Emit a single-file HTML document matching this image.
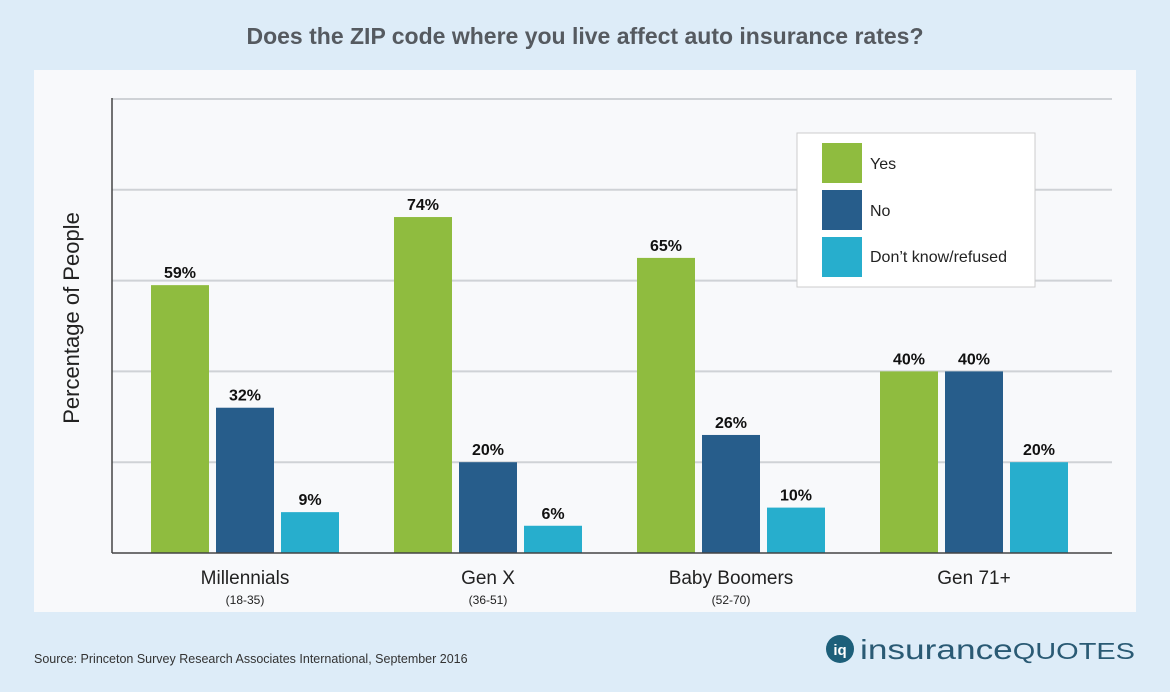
<!DOCTYPE html>
<html><head><meta charset="utf-8"><style>
body{margin:0;width:1170px;height:687px;background:#ddecf8;font-family:"Liberation Sans",sans-serif;overflow:hidden}
</style></head><body>
<svg width="1170" height="687" xmlns="http://www.w3.org/2000/svg">
<text x="585" y="44" text-anchor="middle" font-size="23" font-weight="bold" fill="#555a60">Does the ZIP code where you live affect auto insurance rates?</text>
<rect x="34" y="70" width="1102" height="542" fill="#f8f9fb"/>
<g id="grid"></g>
<g id="bars"></g>
<line x1="112" y1="98" x2="112" y2="553" stroke="#444" stroke-width="1.5"/>
<line x1="112" y1="553" x2="1112" y2="553" stroke="#444" stroke-width="1.5"/>
<text transform="translate(79,318) rotate(-90)" text-anchor="middle" font-size="22" fill="#222">Percentage of People</text>
<g>
<rect x="797" y="133" width="238" height="154" fill="#fff" stroke="#ccc"/>
<rect x="822" y="143" width="40" height="40" fill="#8fbc3f"/>
<text x="870" y="169" font-size="16" fill="#222">Yes</text>
<rect x="822" y="190" width="40" height="40" fill="#275d8b"/>
<text x="870" y="216" font-size="16" fill="#222">No</text>
<rect x="822" y="237" width="40" height="40" fill="#27aecd"/>
<text x="870" y="262" font-size="16" fill="#222">Don’t know/refused</text>
</g>
<g id="xlabels"></g>
<text x="34" y="663" font-size="12.5" fill="#333">Source: Princeton Survey Research Associates International, September 2016</text>
<g>
<circle cx="840" cy="649" r="14" fill="#1d5f7a"/>
<text x="840" y="655" text-anchor="middle" font-size="15" font-weight="bold" fill="#fff">iq</text>
<text x="860" y="659" font-size="28" fill="#2a5a74" textLength="275" lengthAdjust="spacingAndGlyphs">insurance<tspan font-size="23">QUOTES</tspan></text>
</g>
</svg>
<script>
const categories=["Millennials","Gen X","Baby Boomers","Gen 71+"];
const subLabels=["(18-35)","(36-51)","(52-70)",""];
const yesVals=[59,74,65,40];
const noVals=[32,20,26,40];
const dkVals=[9,6,10,20];
const gridTicks=[20,40,60,80,100];
const NS="http://www.w3.org/2000/svg";
const y0=553,pxPer=4.54;
const yS=v=>y0-v*pxPer;
const xG=i=>151+i*243;
function mk(t,a,p){const e=document.createElementNS(NS,t);for(const k in a)e.setAttribute(k,a[k]);p.appendChild(e);return e;}
const grid=document.getElementById('grid');
gridTicks.forEach(t=>{const l=mk('line',{x1:112,x2:1112,y1:yS(t),y2:yS(t),stroke:'#cfd2d6','stroke-width':2},grid);

});
const bars=document.getElementById('bars');
const series=[[yesVals,'#8fbc3f','yes'],[noVals,'#275d8b','no'],[dkVals,'#27aecd','dk']];
categories.forEach((c,i)=>{series.forEach((s,j)=>{const v=s[0][i];const x=xG(i)+j*65;
const r=mk('rect',{x:x,y:yS(v),width:58,height:v*pxPer,fill:s[1]},bars);


const t=mk('text',{x:x+29,y:yS(v)-7,'text-anchor':'middle','font-size':16,'font-weight':'bold',fill:'#111'},bars);
t.textContent=v+'%';

});
const xl=document.getElementById('xlabels');
const t=mk('text',{x:xG(i)+94,y:584,'text-anchor':'middle','font-size':19,fill:'#222'},xl);
t.textContent=c;


if(subLabels[i]){const s=mk('text',{x:xG(i)+94,y:604,'text-anchor':'middle','font-size':12,fill:'#222'},xl);
s.textContent=subLabels[i];

}
});
</script>
</body></html>
